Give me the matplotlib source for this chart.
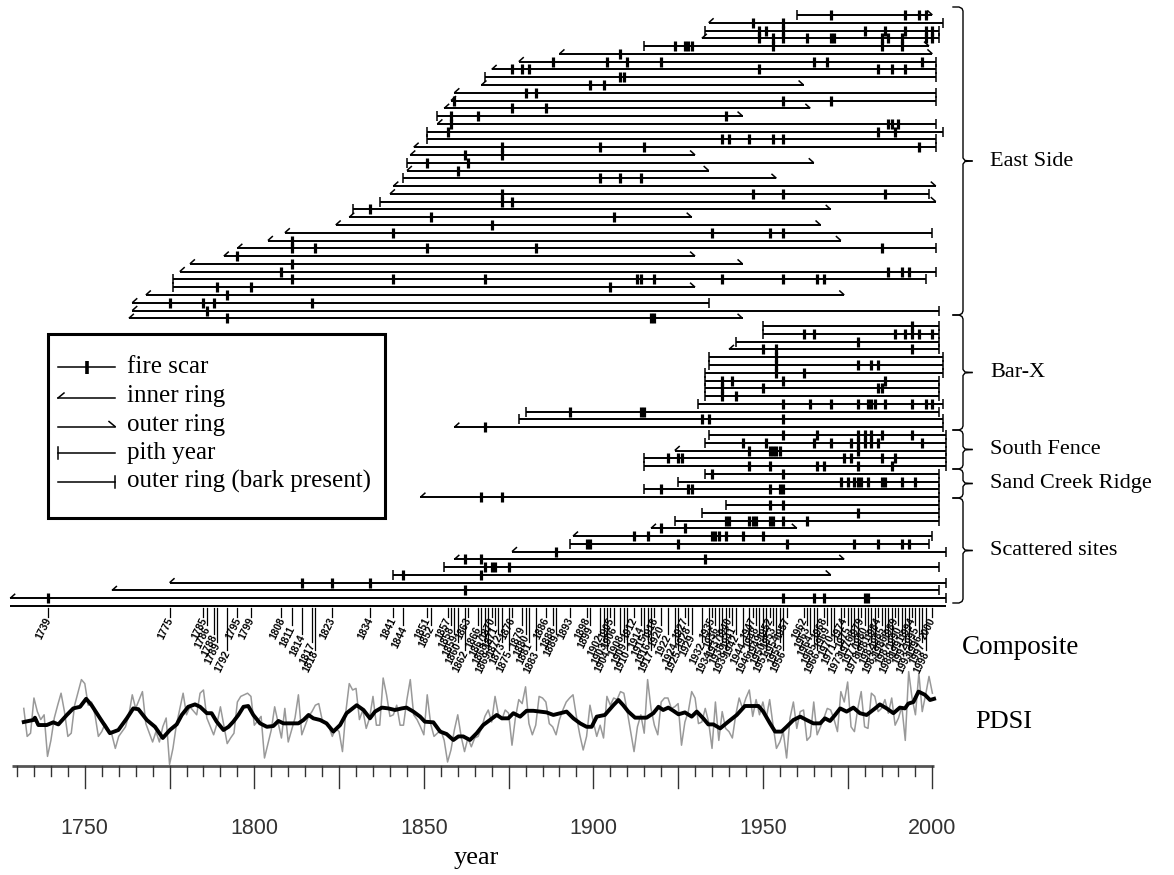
import matplotlib
matplotlib.use('Agg')
import matplotlib.pyplot as plt
from matplotlib.patches import Rectangle

# -------------------------------------------------------
# SAMPLE DATA (one entry per tree, top to bottom)
# -------------------------------------------------------

group_names = ['East Side', 'Bar-X', 'South Fence', 'Sand Creek Ridge', 'Scattered sites']
group_sizes = [40, 14, 5, 4, 13]

first_years = [
    1960, 1934, 1933, 1932, 1915, 1890, 1878, 1870, 1868, 1867,
    1859, 1858, 1856, 1854, 1854, 1851, 1851, 1847, 1846, 1845,
    1845, 1844, 1841, 1840, 1837, 1829, 1828, 1824, 1809, 1804,
    1795, 1791, 1781, 1778, 1776, 1776, 1768, 1764, 1764, 1763,
    1950, 1950, 1942, 1940, 1934, 1934, 1933, 1933, 1933, 1933,
    1931, 1880, 1878, 1859,
    1934, 1933, 1924, 1915, 1915,
    1933, 1925, 1915, 1849,
    1939, 1932, 1924, 1917, 1894, 1893, 1876, 1859, 1856, 1841,
    1775, 1758, 1728,
]
first_kinds = [
    'pith', 'inner', 'pith', 'inner', 'pith', 'inner', 'inner', 'inner', 'pith', 'inner',
    'inner', 'inner', 'inner', 'pith', 'inner', 'pith', 'pith', 'inner', 'inner', 'pith',
    'inner', 'pith', 'inner', 'inner', 'pith', 'pith', 'inner', 'inner', 'inner', 'inner',
    'inner', 'inner', 'inner', 'inner', 'pith', 'pith', 'inner', 'inner', 'inner', 'inner',
    'pith', 'pith', 'pith', 'inner', 'pith', 'pith', 'pith', 'pith', 'pith', 'pith',
    'pith', 'pith', 'pith', 'inner',
    'pith', 'pith', 'inner', 'pith', 'pith',
    'pith', 'pith', 'pith', 'inner',
    'pith', 'pith', 'pith', 'inner', 'inner', 'pith', 'inner', 'inner', 'pith', 'pith',
    'inner', 'inner', 'inner',
]
last_years = [
    2000, 2003, 2002, 2002, 1999, 2000, 2001, 2001, 2001, 1962,
    2001, 2001, 1964, 1944, 2001, 2003, 2001, 2001, 1930, 1965,
    1934, 1954, 2001, 1999, 2001, 1970, 1929, 1967, 2000, 1973,
    2001, 1930, 1944, 2001, 1998, 1930, 1974, 1934, 2002, 1944,
    2002, 2002, 2002, 2002, 2003, 2003, 2003, 2002, 2002, 2002,
    2003, 2002, 2003, 2003,
    2004, 2004, 2004, 2004, 2004,
    2002, 2002, 2002, 2002,
    2002, 2002, 2002, 1960, 2000, 1999, 2004, 1974, 2002, 1970,
    2004, 2002, 2004,
]
last_kinds = [
    'outer', 'bark', 'bark', 'bark', 'outer', 'outer', 'bark', 'bark', 'bark', 'outer',
    'bark', 'bark', 'outer', 'outer', 'bark', 'bark', 'bark', 'bark', 'outer', 'outer',
    'outer', 'outer', 'outer', 'bark', 'outer', 'outer', 'outer', 'outer', 'bark', 'outer',
    'bark', 'outer', 'outer', 'bark', 'bark', 'outer', 'outer', 'bark', 'bark', 'outer',
    'bark', 'bark', 'bark', 'bark', 'bark', 'bark', 'bark', 'bark', 'bark', 'bark',
    'bark', 'bark', 'bark', 'bark',
    'bark', 'bark', 'bark', 'bark', 'bark',
    'bark', 'bark', 'bark', 'bark',
    'bark', 'bark', 'bark', 'outer', 'bark', 'bark', 'bark', 'outer', 'bark', 'outer',
    'bark', 'bark', 'bark',
]
scar_years = [
    [1970, 1992, 1996, 1998],
    [1947, 1956],
    [1949, 1951, 1956, 1980, 1986, 1992, 1998, 2000],
    [1949, 1953, 1956, 1963, 1970, 1971, 1985, 1987, 1991, 1998, 2000],
    [1924, 1927, 1928, 1929, 1953, 1985, 1991],
    [1908],
    [1888, 1904, 1910, 1920, 1965, 1969, 1997],
    [1876, 1879, 1881, 1949, 1984, 1988, 1992],
    [1908, 1909],
    [1899, 1903],
    [1880, 1883],
    [1859, 1956, 1970],
    [1876, 1886],
    [1858, 1866, 1939],
    [1858, 1987, 1988, 1990],
    [1857, 1984, 1989],
    [1938, 1940, 1946, 1953, 1956],
    [1873, 1902, 1915, 1996],
    [1862, 1873],
    [1851, 1863],
    [1860],
    [1902, 1908, 1914],
    [],
    [1873, 1947, 1956, 1986],
    [1873, 1876],
    [1834],
    [1852, 1906],
    [1870],
    [1841, 1935, 1952, 1956],
    [1811],
    [1811, 1818, 1851, 1883, 1985],
    [1795],
    [1811],
    [1808, 1987, 1991, 1993],
    [1811, 1841, 1868, 1913, 1914, 1918, 1938, 1956, 1966, 1968],
    [1789, 1799, 1905],
    [1792],
    [1775, 1785, 1788, 1817],
    [1786],
    [1792, 1917, 1918],
    # Bar-X
    [1994],
    [1962, 1965, 1989, 1992, 1994, 1996, 2000],
    [1978],
    [1950, 1954, 1994],
    [1954],
    [1954, 1978, 1982, 1984],
    [1954, 1962],
    [1938, 1941, 1956, 1986],
    [1938, 1950, 1984, 1985],
    [1938, 1942],
    [1956, 1964, 1970, 1978, 1981, 1982, 1983, 1986, 1994, 1998, 2000],
    [1893, 1914, 1915],
    [1932, 1934, 1956],
    [1868],
    # South Fence
    [1956, 1966, 1978, 1980, 1982, 1985, 1994],
    [1944, 1951, 1965, 1970, 1976, 1978, 1980, 1982, 1984, 1997],
    [1946, 1952, 1953, 1954, 1955, 1978],
    [1922, 1925, 1926, 1974, 1976, 1985, 1989],
    [1946, 1952, 1966, 1968, 1978, 1988],
    # Sand Creek Ridge
    [1935, 1956],
    [1973, 1975, 1977, 1978, 1979, 1981, 1985, 1986, 1991, 1995],
    [1920, 1928, 1929, 1952, 1955, 1956],
    [1867, 1873],
    # Scattered sites
    [1952, 1956],
    [1978],
    [1939, 1940, 1946, 1947, 1948, 1952, 1953, 1956, 1963],
    [1920, 1927],
    [1912, 1916, 1935, 1936, 1937, 1939, 1944, 1950],
    [1898, 1899, 1925, 1957, 1977, 1984, 1991, 1993],
    [1889],
    [1862, 1867, 1933],
    [1868, 1870, 1871, 1875],
    [1844, 1867],
    [1814, 1823, 1834],
    [1862],
    [1739, 1956, 1965, 1968, 1980, 1981],
]

composite_years = [
    1739, 1775, 1785, 1786, 1788, 1789, 1792, 1795, 1799, 1808,
    1811, 1814, 1817, 1818, 1823, 1834, 1841, 1844, 1851, 1852,
    1857, 1858, 1859, 1860, 1862, 1863, 1866, 1867, 1868, 1869,
    1870, 1871, 1872, 1873, 1875, 1876, 1879, 1880, 1881, 1883,
    1886, 1888, 1889, 1893, 1898, 1899, 1902, 1903, 1904, 1905,
    1906, 1908, 1909, 1910, 1912, 1914, 1915, 1916, 1917, 1918,
    1920, 1922, 1924, 1925, 1927, 1928, 1929, 1932, 1934, 1935,
    1936, 1937, 1938, 1939, 1940, 1941, 1942, 1944, 1946, 1947,
    1948, 1949, 1950, 1951, 1952, 1953, 1954, 1955, 1956, 1957,
    1962, 1963, 1964, 1965, 1966, 1968, 1969, 1970, 1971, 1973,
    1974, 1975, 1976, 1977, 1978, 1979, 1980, 1981, 1982, 1983,
    1984, 1985, 1986, 1987, 1988, 1989, 1990, 1991, 1992, 1993,
    1994, 1995, 1996, 1997, 1998, 2000,
]

# -------------------------------------------------------
# PDSI (annual, gray) and smoothed (black)
# -------------------------------------------------------

pdsi_years = [
    1732, 1733, 1734, 1735, 1736, 1737, 1738, 1739, 1740, 1741,
    1742, 1743, 1744, 1745, 1746, 1747, 1749, 1750, 1751, 1752,
    1753, 1754, 1755, 1756, 1758, 1759, 1760, 1762, 1763, 1764,
    1765, 1767, 1768, 1770, 1771, 1772, 1773, 1774, 1775, 1776,
    1777, 1779, 1780, 1781, 1783, 1784, 1785, 1786, 1788, 1789,
    1790, 1792, 1793, 1794, 1795, 1796, 1798, 1799, 1800, 1802,
    1803, 1805, 1806, 1808, 1809, 1810, 1812, 1813, 1814, 1816,
    1817, 1818, 1819, 1820, 1822, 1823, 1824, 1825, 1826, 1827,
    1828, 1829, 1830, 1831, 1832, 1833, 1834, 1835, 1836, 1837,
    1838, 1839, 1840, 1841, 1842, 1843, 1844, 1845, 1846, 1847,
    1848, 1849, 1850, 1851, 1852, 1853, 1854, 1855, 1856, 1857,
    1858, 1859, 1860, 1861, 1862, 1863, 1864, 1865, 1866, 1867,
    1868, 1869, 1870, 1871, 1872, 1873, 1874, 1875, 1876, 1877,
    1878, 1879, 1880, 1881, 1882, 1883, 1884, 1885, 1886, 1887,
    1888, 1889, 1890, 1891, 1892, 1893, 1894, 1895, 1896, 1897,
    1898, 1899, 1900, 1901, 1902, 1903, 1904, 1905, 1906, 1907,
    1908, 1909, 1910, 1911, 1912, 1913, 1914, 1915, 1916, 1917,
    1918, 1919, 1920, 1921, 1922, 1923, 1924, 1925, 1926, 1927,
    1928, 1929, 1930, 1931, 1932, 1933, 1934, 1935, 1936, 1937,
    1938, 1939, 1940, 1941, 1942, 1943, 1944, 1945, 1946, 1947,
    1948, 1949, 1950, 1951, 1952, 1953, 1954, 1955, 1956, 1957,
    1958, 1959, 1960, 1961, 1962, 1963, 1964, 1965, 1966, 1967,
    1968, 1969, 1970, 1971, 1972, 1973, 1974, 1975, 1976, 1977,
    1978, 1979, 1980, 1981, 1982, 1983, 1984, 1985, 1986, 1987,
    1988, 1989, 1990, 1991, 1992, 1993, 1994, 1995, 1996, 1997,
    1998, 1999, 2000,
]
pdsi_values = [
    1.7, -1.8, -1.4, 3.0, 1.3, 0.3, 0.9, -4.3, -2.3, 0.5,
    2.1, 3.6, 1.3, -1.8, -1.4, 2.1, 5.3, 4.8, 2.1, 2.5,
    0.9, -1.8, -1.2, -0.2, -1.6, -3.3, -1.8, -0.6, 0.9, 3.4,
    1.7, 3.8, -0.2, -2.5, -1.2, -2.5, -0.6, 0.5, -5.3, -3.3,
    -0.4, 3.6, 0.9, 1.9, 0.9, 3.6, 4.0, 0.5, -1.6, -0.2,
    1.9, -2.7, -2.0, -1.4, 2.5, 3.2, 3.6, 3.2, -0.4, 0.7,
    -4.5, -1.0, 1.9, -2.0, 1.7, -2.5, 0.5, 3.4, -1.6, 0.7,
    1.3, 2.1, 2.3, 0.3, -0.6, -1.8, -0.8, -1.2, -3.7, 1.3,
    4.8, 4.0, 4.2, 0.3, 1.5, -0.8, 0.5, 3.2, -0.4, -0.4,
    5.5, 3.4, 0.7, 0.9, 2.1, -0.4, -0.4, 2.8, 5.3, 0.9,
    0.3, -0.6, -1.6, 3.4, -0.2, -1.8, -1.4, -1.0, -2.3, -5.0,
    -3.5, -1.0, 0.9, -1.8, -3.7, -2.0, -3.1, -2.0, -1.8, -0.8,
    0.7, 1.5, 0.0, 3.2, 0.9, 0.3, 1.5, 1.1, -2.9, 0.5,
    2.8, 2.3, 4.4, -0.2, -1.6, -0.4, 3.2, 3.0, 2.5, -0.2,
    -0.6, -1.6, 0.3, 1.5, 2.5, 3.0, 3.4, 0.7, -1.6, -3.5,
    -1.8, 2.1, 0.0, -1.8, -0.4, -2.0, 3.2, 2.1, 3.0, 2.8,
    3.8, 3.6, 1.3, -1.2, -3.7, -0.6, 0.9, -1.4, 5.3, 1.7,
    -0.4, -1.6, 2.5, 3.0, 3.0, 1.7, 1.9, 2.3, -2.9, 0.0,
    1.3, 3.8, 3.0, -0.2, 0.0, 1.7, 0.0, -3.3, 2.5, -2.3,
    1.3, -0.8, -1.2, -2.0, 0.9, 3.0, 1.7, 3.0, 4.0, 0.7,
    2.8, 0.9, 2.5, 0.5, 2.8, -0.4, -3.3, -2.5, -1.2, -4.5,
    0.5, 2.5, -0.8, 1.3, 1.5, -2.3, -1.8, 2.5, -1.6, -0.6,
    0.5, 1.7, 1.5, 0.3, -1.2, 3.8, 2.5, 5.0, -0.6, -1.2,
    1.7, 3.8, -0.6, -0.8, 3.6, 3.2, 1.3, 1.7, 2.8, 1.1,
    3.0, -0.4, 0.5, 1.9, -2.3, 6.3, 3.0, 0.9, 6.1, 1.3,
    3.4, 5.7, 3.6,
]

smooth_years = [
    1732.0, 1734.8, 1735.3, 1736.3, 1738.8, 1740.7, 1742.2, 1744.7, 1746.6, 1748.6,
    1750.4, 1752.0, 1754.5, 1757.4, 1759.9, 1762.4, 1764.3, 1765.8, 1768.3, 1770.7,
    1773.0, 1775.1, 1777.1, 1778.6, 1780.5, 1782.5, 1784.0, 1786.0, 1787.4, 1788.9,
    1790.9, 1792.4, 1793.8, 1795.3, 1796.8, 1798.2, 1799.7, 1801.7, 1803.7, 1805.6,
    1807.1, 1808.6, 1813.0, 1814.5, 1816.0, 1817.4, 1819.4, 1821.3, 1823.3, 1825.3,
    1827.2, 1830.2, 1832.2, 1834.1, 1835.6, 1837.6, 1839.5, 1841.5, 1843.5, 1844.9,
    1846.9, 1848.9, 1850.3, 1852.8, 1854.8, 1856.7, 1858.7, 1860.2, 1861.6, 1863.6,
    1865.6, 1867.5, 1869.5, 1871.5, 1873.0, 1874.9, 1876.4, 1878.4, 1880.3, 1882.3,
    1884.3, 1886.2, 1888.2, 1890.2, 1892.1, 1894.1, 1896.1, 1898.0, 1899.5, 1901.0,
    1903.4, 1905.9, 1907.4, 1908.8, 1910.3, 1912.3, 1914.2, 1915.7, 1917.7, 1919.2,
    1920.6, 1922.1, 1923.6, 1925.1, 1927.0, 1929.0, 1930.5, 1932.4, 1933.9, 1935.4,
    1937.4, 1939.8, 1942.3, 1944.7, 1946.7, 1948.7, 1950.1, 1952.1, 1953.6, 1955.5,
    1957.0, 1959.0, 1961.0, 1962.9, 1964.9, 1966.9, 1968.3, 1969.8, 1971.3, 1972.8,
    1974.7, 1976.7, 1978.6, 1980.6, 1983.1, 1984.5, 1986.5, 1988.5, 1990.4, 1991.9,
    1992.9, 1994.4, 1995.9, 1997.8, 1999.3, 2000.5,
]
smooth_values = [
    0.0, 0.25, 0.54, -0.38, -0.38, -0.04, -0.3, 0.88, 1.7, 1.9,
    2.9, 2.1, 0.46, -1.4, -1.0, 0.46, 1.7, 1.6, 0.25, -0.6,
    -2.0, -1.0, -0.3, 0.88, 1.9, 2.2, 1.9, 1.1, 1.1, 0.04,
    -1.0, -0.6, 0.04, 0.88, 1.9, 2.0, 0.88, -0.17, -0.6, -0.5,
    0.13, -0.17, -0.17, 0.25, 0.88, 0.46, 0.25, -0.17, -1.2, -0.38,
    1.1, 2.1, 1.5, 0.46, 1.3, 1.8, 1.7, 1.5, 1.7, 1.8,
    1.3, 0.67, 0.04, -0.04, -1.2, -1.5, -2.25, -1.8, -1.8, -2.25,
    -1.4, -0.38, 0.25, 0.88, 0.46, 0.46, 1.1, 0.67, 1.4, 1.4,
    1.3, 1.2, 0.88, 1.1, 1.3, 0.46, -0.17, -0.6, -0.6, 0.67,
    0.88, 2.1, 2.75, 2.1, 1.3, 0.54, 0.54, 0.54, 1.1, 1.9,
    1.5, 1.8, 1.4, 0.96, 1.2, 0.67, 1.3, 0.46, -0.3, -0.3,
    -0.8, 0.04, 0.88, 2.0, 2.0, 2.0, 1.3, -0.17, -1.2, -1.2,
    -0.6, 0.25, 0.67, 0.25, -0.17, -0.17, 0.46, 0.13, 0.88, 1.7,
    1.3, 1.8, 1.1, 0.88, 1.7, 2.2, 1.7, 1.1, 1.8, 1.7,
    2.3, 2.5, 3.8, 3.4, 2.75, 2.9,
]

axis_label_years = [1750, 1800, 1850, 1900, 1950, 2000]

# -------------------------------------------------------
# FIGURE
# -------------------------------------------------------

W, H = 1174, 875
PX_PER_YEAR = 3.3904
X0_YEAR = 1750 - 84.8 / PX_PER_YEAR
PX = 1 / PX_PER_YEAR          # one pixel, in years

serif = ['Liberation Serif', 'DejaVu Serif']
sans = ['Liberation Sans', 'DejaVu Sans']

fig = plt.figure(figsize=(W / 100, H / 100), dpi=100)

ax = fig.add_axes([0, 0, 1, 1])
ax.set_xlim(X0_YEAR, X0_YEAR + W / PX_PER_YEAR)
ax.set_ylim(H, 0)
ax.axis('off')

ov = fig.add_axes([0, 0, 1, 1], facecolor='none')
ov.set_xlim(0, W)
ov.set_ylim(H, 0)
ov.axis('off')

row_top = 15.0
row_step = 7.777
line_kw = dict(color='black', solid_capstyle='butt')

# -------------------------------------------------------
# SAMPLE LINES
# -------------------------------------------------------

for i in range(len(first_years)):
    y = row_top + i * row_step
    a, b = first_years[i], last_years[i]
    ax.plot([a, b], [y, y], lw=1.4, **line_kw)

    if first_kinds[i] == 'pith':
        ax.plot([a, a], [y - 5, y + 5], lw=1.1, **line_kw)
    else:
        ax.plot([a, a + 5 * PX], [y, y - 4.5], lw=1.1, **line_kw)

    if last_kinds[i] == 'bark':
        ax.plot([b, b], [y - 5, y + 5], lw=1.1, **line_kw)
    else:
        ax.plot([b - 5 * PX, b], [y - 4.5, y], lw=1.1, **line_kw)

    for s in scar_years[i]:
        ax.plot([s, s], [y - 5, y + 5], lw=2.3, **line_kw)

# -------------------------------------------------------
# GROUP BRACKETS
# -------------------------------------------------------

bracket_top = [7, 315, 430, 469, 498]
bracket_bottom = [315, 430, 469, 498, 603]
bx = 963

for name, top, bot in zip(group_names, bracket_top, bracket_bottom):
    mid = (top + bot) / 2
    ov.plot([953, 959, 962, bx, bx, 965, 972], [top, top, top + 1.5, top + 4, mid - 3, mid - 0.5, mid],
            color='black', lw=1.0)
    ov.plot([953, 959, 962, bx, bx, 965, 972], [bot, bot, bot - 1.5, bot - 4, mid + 3, mid + 0.5, mid],
            color='black', lw=1.0)
    ov.text(990, mid, name, family=serif, fontsize=16, va='center', ha='left')

# -------------------------------------------------------
# COMPOSITE
# -------------------------------------------------------

comp_y = 606
ax.plot([1728, 2004], [comp_y, comp_y], lw=1.4, **line_kw)

prev, level = None, 0
for yr in composite_years:
    if prev is not None and yr - prev < 4:
        level = (level + 1) % 5
    else:
        level = 0
    prev = yr
    bottom = 617 + level * 8.3
    ax.plot([yr, yr], [608, bottom], color='black', lw=0.9)
    ax.text(yr + 0.8 * PX, bottom + 1.5, str(yr), family=sans, fontsize=7.4,
            fontweight='bold', rotation=64, rotation_mode='anchor',
            ha='right', va='center')

ov.text(962, 648, 'Composite', family=serif, fontsize=19.5, va='center', ha='left')

# -------------------------------------------------------
# PDSI
# -------------------------------------------------------

pdsi_mid = 722
pdsi_scale = 8

ax.plot(pdsi_years, [pdsi_mid - pdsi_scale * v for v in pdsi_values],
        color='#999999', lw=1.1)
ax.plot(smooth_years, [pdsi_mid - pdsi_scale * v for v in smooth_values],
        color='black', lw=2.8, solid_joinstyle='round')

ov.text(975, 722, 'PDSI', family=serif, fontsize=19, va='center', ha='left')

# -------------------------------------------------------
# TIME AXIS
# -------------------------------------------------------

axis_y = 766
ax.plot([1728.4, 2000.5], [axis_y, axis_y], color='#555555', lw=2.0, solid_capstyle='butt')
for yr in range(1730, 2001, 5):
    length = 22 if yr % 25 == 0 else 10
    ax.plot([yr, yr], [axis_y, axis_y + length], color='#333333', lw=1.0)

for yr in axis_label_years:
    ax.text(yr, 828, str(yr), family=sans, fontsize=15.5, color='#333333',
            ha='center', va='center')

ax.text(1865.5, 858, 'year', family=serif, fontsize=19, ha='center', va='center')

# -------------------------------------------------------
# LEGEND
# -------------------------------------------------------

ov.add_patch(Rectangle((47.5, 334), 337.5, 184, fill=False, edgecolor='black', lw=2.2))

leg_y = [367, 396, 424.5, 453, 481.5]
leg_labels = ['fire scar', 'inner ring', 'outer ring', 'pith year', 'outer ring (bark present)']
lx0, lx1 = 58, 115

ov.plot([lx0, lx1], [leg_y[0], leg_y[0]], color='black', lw=1.1)
ov.plot([86.5, 86.5], [leg_y[0] - 6.5, leg_y[0] + 6.5], color='black', lw=2.6, solid_capstyle='butt')

ov.plot([lx0, lx1], [leg_y[1] + 2, leg_y[1] + 2], color='black', lw=1.1)
ov.plot([lx0, lx0 + 6], [leg_y[1] + 2, leg_y[1] - 3], color='black', lw=1.1)

ov.plot([lx0, lx1], [leg_y[2] + 2, leg_y[2] + 2], color='black', lw=1.1)
ov.plot([lx1 - 6, lx1], [leg_y[2] - 3, leg_y[2] + 2], color='black', lw=1.1)

ov.plot([lx0, lx1], [leg_y[3], leg_y[3]], color='black', lw=1.1)
ov.plot([lx0, lx0], [leg_y[3] - 6, leg_y[3] + 6], color='black', lw=1.1)

ov.plot([lx0, lx1], [leg_y[4], leg_y[4]], color='black', lw=1.1)
ov.plot([lx1, lx1], [leg_y[4] - 6, leg_y[4] + 6], color='black', lw=1.1)

for y, lab in zip(leg_y, leg_labels):
    ov.text(127, y, lab, family=serif, fontsize=18, va='center', ha='left')

fig.savefig('out.png', dpi=100)
